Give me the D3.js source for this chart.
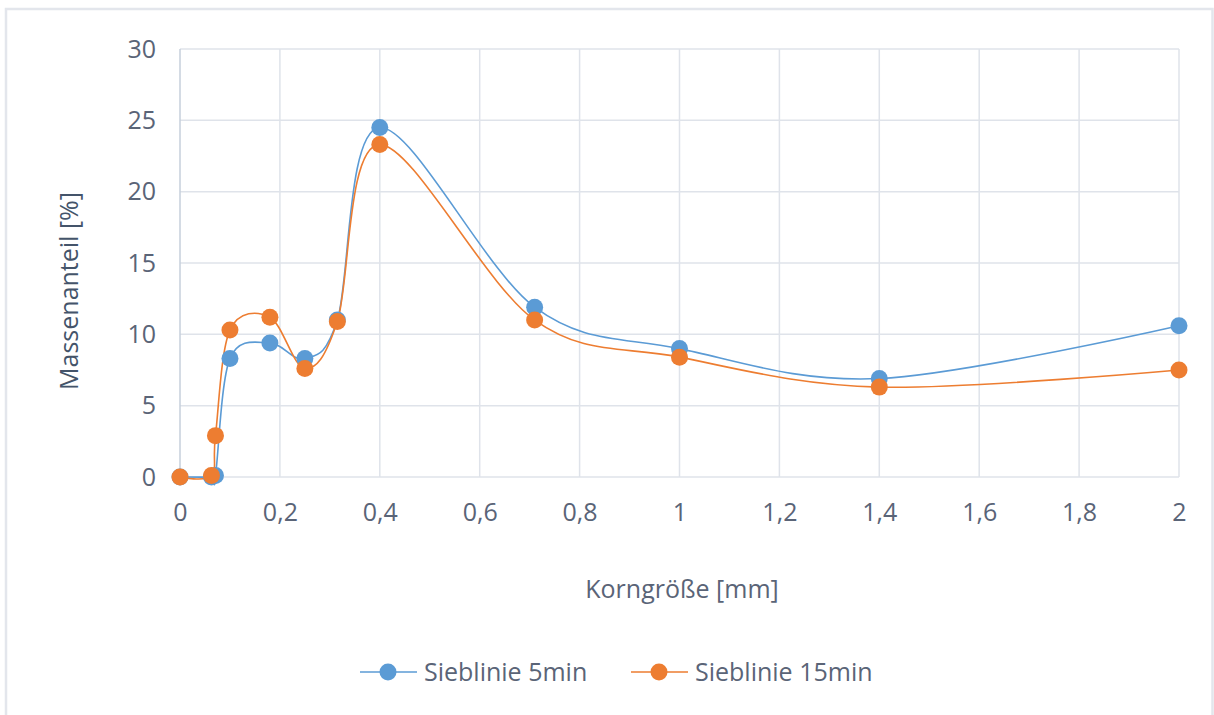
<!DOCTYPE html>
<html>
<head>
<meta charset="utf-8">
<script src="https://cdn.jsdelivr.net/npm/d3@7"></script>
<style>
  html, body { margin: 0; padding: 0; background: #ffffff; }
  svg { display: block; }
  text { font-family: "Open Sans", "Noto Sans", sans-serif; }
</style>
</head>
<body>
<script>
// Sieve sizes (mm) and mass fractions (%) for both sieving times
const grainSizes = [0, 0.063, 0.071, 0.1, 0.18, 0.25, 0.315, 0.4, 0.71, 1, 1.4, 2];
const massShare5min = [0, 0, 0.1, 8.3, 9.4, 8.3, 11.0, 24.5, 11.9, 9.0, 6.9, 10.6];
const massShare15min = [0, 0.1, 2.9, 10.3, 11.2, 7.6, 10.9, 23.3, 11.0, 8.4, 6.3, 7.5];
const seriesNames = ["Sieblinie 5min", "Sieblinie 15min"];
const xTicks = [0, 0.2, 0.4, 0.6, 0.8, 1, 1.2, 1.4, 1.6, 1.8, 2];
const yTicks = [0, 5, 10, 15, 20, 25, 30];
const xTitle = "Korngröße [mm]";
const yTitle = "Massenanteil [%]";

const W = 1214, H = 715;
const plot = { left: 180, right: 1179, top: 49, bottom: 477 };
const colors = ["#5b9bd5", "#ed7d31"];
const textColor = "#5a6477";
const fontSize = 25;
const fmt = d => String(d).replace(".", ",");

const svg = d3.select("body").append("svg").attr("width", W).attr("height", H);

// chart area frame
svg.append("rect")
  .attr("x", 6).attr("y", 9).attr("width", 1206.5).attr("height", 730)
  .attr("fill", "#ffffff").attr("stroke", "#e3e6ec").attr("stroke-width", 2.5);

const x = d3.scaleLinear().domain([0, 2]).range([plot.left, plot.right]);
const y = d3.scaleLinear().domain([0, 30]).range([plot.bottom, plot.top]);

// gridlines
const grid = svg.append("g");
grid.selectAll("line.h").data(yTicks).join("line")
  .attr("x1", plot.left).attr("x2", plot.right)
  .attr("y1", d => y(d)).attr("y2", d => y(d))
  .attr("stroke", "#dfe3ea").attr("stroke-width", 1.5);
grid.selectAll("line.v").data(xTicks.filter(d => d > 0)).join("line")
  .attr("x1", d => x(d)).attr("x2", d => x(d))
  .attr("y1", plot.top).attr("y2", plot.bottom)
  .attr("stroke", "#dfe3ea").attr("stroke-width", 1.5);
// vertical axis line
svg.append("line")
  .attr("x1", x(0)).attr("x2", x(0)).attr("y1", plot.top).attr("y2", plot.bottom)
  .attr("stroke", "#c6cfdb").attr("stroke-width", 1.5);

// axes (labels only)
const xAxis = svg.append("g").attr("transform", `translate(0,${plot.bottom})`)
  .call(d3.axisBottom(x).tickValues(xTicks).tickFormat(fmt).tickSize(0).tickPadding(26));
const yAxis = svg.append("g").attr("transform", `translate(${plot.left},0)`)
  .call(d3.axisLeft(y).tickValues(yTicks).tickFormat(fmt).tickSize(0).tickPadding(24));
[xAxis, yAxis].forEach(g => {
  g.select(".domain").remove();
  g.selectAll("text").attr("font-size", fontSize).attr("fill", textColor)
    .attr("font-family", "'Open Sans', sans-serif");
});

// axis titles
svg.append("text").attr("x", 682).attr("y", 598).attr("text-anchor", "middle")
  .attr("font-size", fontSize).attr("fill", textColor).text(xTitle);
svg.append("text").attr("transform", "translate(78,291) rotate(-90)")
  .attr("text-anchor", "middle").attr("font-size", fontSize).attr("fill", "#44546a").text(yTitle);

// smoothed series lines and markers
const series = [massShare5min, massShare15min];
const line = d3.line().x(d => x(d[0])).y(d => y(d[1])).curve(d3.curveCatmullRom.alpha(0));
series.forEach((vals, i) => {
  const pts = grainSizes.map((g, j) => [g, vals[j]]);
  svg.append("path").datum(pts).attr("d", line)
    .attr("fill", "none").attr("stroke", colors[i]).attr("stroke-width", 1.6);
});
series.forEach((vals, i) => {
  const pts = grainSizes.map((g, j) => [g, vals[j]]);
  svg.append("g").selectAll("circle").data(pts).join("circle")
    .attr("cx", d => x(d[0])).attr("cy", d => y(d[1])).attr("r", 8.5)
    .attr("fill", colors[i]);
});

// legend
const legendX = [360, 631];
legendX.forEach((x0, i) => {
  const g = svg.append("g").attr("transform", `translate(${x0},672)`);
  g.append("line").attr("x1", 0).attr("x2", 57).attr("y1", 0).attr("y2", 0)
    .attr("stroke", colors[i]).attr("stroke-width", 1.6);
  g.append("circle").attr("cx", 28).attr("cy", 0).attr("r", 8.5).attr("fill", colors[i]);
  g.append("text").attr("x", 64).attr("y", 9).attr("font-size", fontSize)
    .attr("fill", textColor).text(seriesNames[i]);
});
</script>
</body>
</html>
